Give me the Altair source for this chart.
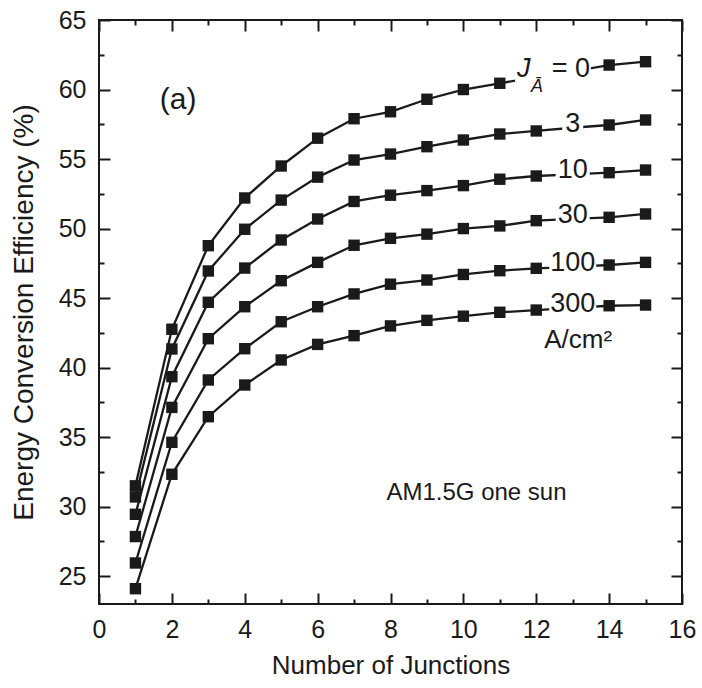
import altair as alt
import pandas as pd

# ---------------- data ----------------
junctions = list(range(1, 16))
series_labels = ["0", "3", "10", "30", "100", "300"]
eff_0 = [31.5, 42.76, 48.77, 52.2, 54.5, 56.5, 57.9, 58.4, 59.3, 60.0, 60.45, 60.9, 61.3, 61.76, 62.0]
eff_3 = [30.7, 41.34, 46.95, 49.95, 52.05, 53.7, 54.93, 55.36, 55.89, 56.37, 56.8, 57.02, 57.25, 57.45, 57.81]
eff_10 = [29.45, 39.35, 44.7, 47.16, 49.18, 50.69, 51.95, 52.4, 52.73, 53.09, 53.55, 53.78, 53.9, 54.02, 54.21]
eff_30 = [27.85, 37.14, 42.08, 44.38, 46.25, 47.57, 48.8, 49.3, 49.6, 50.0, 50.19, 50.57, 50.7, 50.81, 51.05]
eff_100 = [25.95, 34.63, 39.11, 41.36, 43.3, 44.38, 45.3, 46.0, 46.3, 46.7, 46.97, 47.14, 47.25, 47.38, 47.57]
eff_300 = [24.1, 32.33, 36.47, 38.75, 40.55, 41.67, 42.3, 43.0, 43.4, 43.7, 43.98, 44.14, 44.3, 44.45, 44.5]
series_values = [eff_0, eff_3, eff_10, eff_30, eff_100, eff_300]

x_ticks = list(range(0, 17))
y_ticks = [25 + 2.5 * i for i in range(17)]

FONT = "Liberation Sans"
INK = "#1a1a1a"
W, H = 583, 584
X_DOMAIN = [0, 16]
Y_DOMAIN = [23, 65]
PX_X = W / (X_DOMAIN[1] - X_DOMAIN[0])

rows = []
for lab, vals in zip(series_labels, series_values):
    for n, v in zip(junctions, vals):
        rows.append({"series": lab, "n": n, "eff": v})
df = pd.DataFrame(rows)

# label positions on the curves (at junction 13)
LABEL_N = 13
lab_rows = []
box_rows = []
for lab, vals in zip(series_labels[1:], series_values[1:]):
    v = vals[LABEL_N - 1]
    half = (4 + 6.5 * len(lab)) / PX_X
    lab_rows.append({"text": lab, "x": LABEL_N, "y": v})
    box_rows.append({"x1": LABEL_N - half, "x2": LABEL_N + half, "y1": v - 0.75, "y2": v + 0.75})
v0 = eff_0[LABEL_N - 1]
box_rows.append({"x1": 11.42, "x2": 13.5, "y1": v0 - 0.9, "y2": v0 + 0.7})
lab_df = pd.DataFrame(lab_rows)
box_df = pd.DataFrame(box_rows)

xs = alt.Scale(domain=X_DOMAIN, nice=False, zero=False)
ys = alt.Scale(domain=Y_DOMAIN, nice=False, zero=False)

def tick_dash(test):
    return {"condition": {"test": test, "value": [0, 6, 5, 0]}, "value": [11, 0]}

common = dict(
    tickSize=11, tickWidth=2, tickColor=INK, offset=-11, domain=False, grid=False,
    labelFont=FONT, labelFontSize=25, labelColor=INK, titleFont=FONT,
    titleColor=INK, titleFontWeight="normal", labelFlush=False, labelOverlap=False,
)

x_axis = alt.Axis(values=x_ticks, labelExpr="datum.value % 2 == 0 ? datum.label : ''",
                  tickDash=tick_dash("datum.value % 2 != 0"), title="Number of Junctions",
                  labelPadding=13, titlePadding=10, titleFontSize=26, orient="bottom", **common)
y_axis = alt.Axis(values=y_ticks, labelExpr="datum.value % 5 == 0 ? datum.label : ''",
                  tickDash=tick_dash("datum.value % 5 != 0"), title="Energy Conversion Efficiency (%)",
                  labelPadding=13, titlePadding=20, titleFontSize=28, orient="left", **common)
x_top = alt.Axis(values=x_ticks, labels=False, title="", orient="top",
                 tickDash=tick_dash("datum.value % 2 != 0"), **common)
y_right = alt.Axis(values=y_ticks, labels=False, title="", orient="right",
                   tickDash=tick_dash("datum.value % 5 != 0"), **common)

base = alt.Chart(df)
lines = base.mark_line(color=INK, strokeWidth=2.3).encode(
    x=alt.X("n:Q", scale=xs, axis=x_axis),
    y=alt.Y("eff:Q", scale=ys, axis=y_axis),
    detail="series:N",
)
points = base.mark_point(shape="square", filled=True, size=130, color=INK, opacity=1).encode(
    x=alt.X("n:Q", scale=xs, axis=None),
    y=alt.Y("eff:Q", scale=ys, axis=None),
)
mirror = base.mark_point(opacity=0).encode(
    x=alt.X("n:Q", scale=xs, axis=x_top),
    y=alt.Y("eff:Q", scale=ys, axis=y_right),
)
boxes = alt.Chart(box_df).mark_rect(color="white", opacity=1).encode(
    x=alt.X("x1:Q", scale=xs, axis=None), x2="x2:Q",
    y=alt.Y("y1:Q", scale=ys, axis=None), y2="y2:Q",
)
series_text = alt.Chart(lab_df).mark_text(font=FONT, fontSize=27, color=INK, dy=-4,
                                          align="center", baseline="middle").encode(
    x=alt.X("x:Q", scale=xs, axis=None),
    y=alt.Y("y:Q", scale=ys, axis=None),
    text="text:N",
)

# annotations (data coordinates)
ann_text = ["(a)", "AM1.5G one sun", "A/cm²", "= 0"]
ann_x = [2.17, 10.36, 13.15, 12.95]
ann_y = [59.25, 31.0, 42.0, 61.47]
ann_size = [30, 24, 26, 27]
ann_df = pd.DataFrame({"text": ann_text, "x": ann_x, "y": ann_y, "size": ann_size})
ann = alt.Chart(ann_df).mark_text(font=FONT, color=INK, align="center", baseline="middle").encode(
    x=alt.X("x:Q", scale=xs, axis=None),
    y=alt.Y("y:Q", scale=ys, axis=None),
    text="text:N",
    size=alt.Size("size:Q", scale=None, legend=None),
)
ital_df = pd.DataFrame({"text": ["J", "Ā"], "x": [11.66, 12.02], "y": [61.5, 60.2], "size": [27, 18]})
ital = alt.Chart(ital_df).mark_text(font=FONT, fontStyle="italic", color=INK, align="center",
                                    baseline="middle").encode(
    x=alt.X("x:Q", scale=xs, axis=None),
    y=alt.Y("y:Q", scale=ys, axis=None),
    text="text:N",
    size=alt.Size("size:Q", scale=None, legend=None),
)

chart = alt.layer(lines, mirror, points, boxes, series_text, ann, ital).resolve_axis(
    x="independent", y="independent"
).properties(
    width=W, height=H,
    padding={"left": 99, "top": 20, "right": 20, "bottom": 84},
    autosize=alt.AutoSizeParams(type="none"),
    background="white",
).configure_view(stroke=INK, strokeWidth=2)

chart.save("out.html", embed_options={"renderer": "svg", "actions": False})
